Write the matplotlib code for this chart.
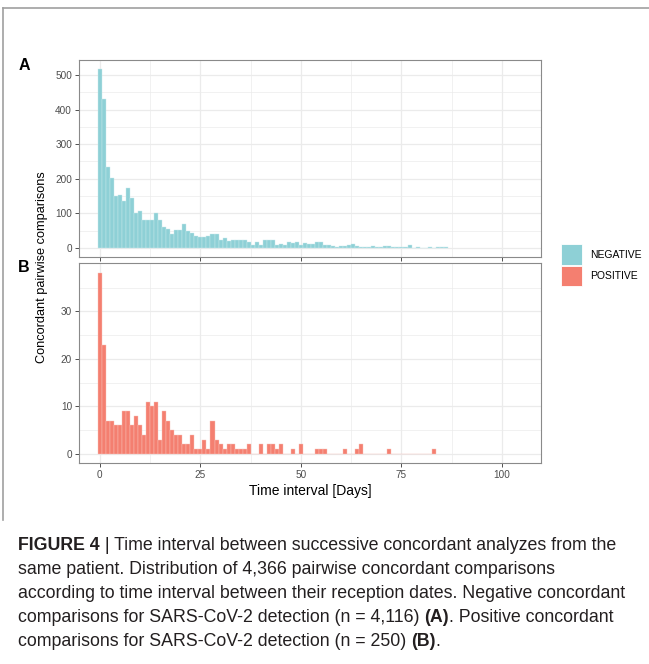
import matplotlib
matplotlib.use("Agg")
import matplotlib.pyplot as plt
import numpy as np

plt.rcParams["font.family"] = ["Liberation Sans", "DejaVu Sans"]

# Panel A: negative concordant comparisons, count per day (0..86)
neg_counts = [
    517, 429, 233, 201, 151, 153, 137, 172, 144, 101, 106, 82, 80, 81, 101, 81,
    60, 56, 41, 53, 52, 70, 48, 42,
    35, 31, 33, 34, 41, 41, 22, 28, 21, 24, 24, 24, 24, 17, 10, 17, 10, 22, 22,
    22, 10, 12, 10, 18, 13, 16, 10, 13,
    12, 12, 17, 17, 8, 8, 7, 4, 6, 7, 9, 12, 7, 4, 4, 4, 7, 2, 4, 5, 5, 3, 3,
    3, 2, 8, 1, 4, 0, 0, 4, 0, 2, 2, 2,
]
neg_days = np.arange(len(neg_counts))

# Panel B: positive concordant comparisons, count per day (0..83)
pos_counts = [
    38, 23, 7, 7, 6, 6, 9, 9, 6, 8, 6, 4, 11, 10, 11, 3, 9, 7, 5, 4, 4, 2, 2, 4,
    1, 1, 3, 1, 7, 3, 2, 1, 2, 2, 1, 1, 1, 2, 0, 0, 2, 0, 2, 2, 1, 2, 0, 0, 1, 0,
    2, 0, 0, 0, 1, 1, 1, 0, 0, 0, 0, 1, 0, 0, 1, 2, 0, 0, 0, 0, 0, 0, 1, 0, 0, 0,
    0, 0, 0, 0, 0, 0, 0, 1,
]
pos_days = np.arange(len(pos_counts))

x_ticks = [0, 25, 50, 75, 100]
legend_labels = ["NEGATIVE", "POSITIVE"]

NEG_COLOR = "#8ED0D6"
POS_COLOR = "#F47F70"
GRID = "#EBEBEB"
BORDER = "#8A8A8A"
TICK_TEXT = "#4D4D4D"

W, H = 649, 664
fig = plt.figure(figsize=(W / 100, H / 100), dpi=100)


def px_axes(left, top, right, bottom):
    return fig.add_axes([left / W, 1 - bottom / H, (right - left) / W, (bottom - top) / H])


def style(ax, yticks, yminor, ylim, show_x):
    ax.set_xlim(-5.2, 109.7)
    ax.set_ylim(*ylim)
    ax.set_xticks(x_ticks)
    ax.set_xticks([12.5, 37.5, 62.5, 87.5], minor=True)
    ax.set_yticks(yticks)
    ax.set_yticks(yminor, minor=True)
    ax.grid(which="major", color=GRID, linewidth=0.9, zorder=0)
    ax.grid(which="minor", color=GRID, linewidth=0.5, zorder=0)
    ax.set_axisbelow(True)
    ax.tick_params(which="minor", length=0)
    ax.tick_params(which="major", length=3, width=0.6, color="#333333",
                   labelsize=7.2, labelcolor=TICK_TEXT, pad=2)
    if not show_x:
        ax.tick_params(axis="x", labelbottom=False)
    for s in ax.spines.values():
        s.set_color(BORDER)
        s.set_linewidth(0.8)


# Panel A
axA = px_axes(79, 60, 541, 257)
axA.bar(neg_days, neg_counts, width=1, color=NEG_COLOR, edgecolor="#C9E9EC",
        linewidth=0.3, zorder=2)
style(axA, [0, 100, 200, 300, 400, 500], [50, 150, 250, 350, 450], (-26, 543), False)

# Panel B
axB = px_axes(79, 263, 541, 463)
axB.bar(pos_days, pos_counts, width=1, color=POS_COLOR, edgecolor="#F9C3BB",
        linewidth=0.3, zorder=2)
style(axB, [0, 10, 20, 30], [5, 15, 25, 35], (-1.9, 40.2), True)
axB.set_xlabel("Time interval [Days]", fontsize=10, labelpad=3)

fig.text(42 / W, 1 - 267 / H, "Concordant pairwise comparisons", rotation=90,
         fontsize=9.2, ha="center", va="center")

fig.text(24 / W, 1 - 65 / H, "A", fontsize=11.5, fontweight="bold", ha="center", va="center")
fig.text(24 / W, 1 - 268 / H, "B", fontsize=11.5, fontweight="bold", ha="center", va="center")

# Legend keys
for i, (lab, col) in enumerate(zip(legend_labels, [NEG_COLOR, POS_COLOR])):
    top = 244 + i * 21.5
    fig.patches.append(plt.Rectangle((561 / W, 1 - (top + 21) / H), 21 / W, 21 / H,
                                     transform=fig.transFigure, facecolor=col,
                                     edgecolor="white", linewidth=0.6))
    fig.text(590 / W, 1 - (top + 10.5) / H, lab, fontsize=7.5, ha="left", va="center")

# Frame lines of the figure box
fig.add_artist(plt.Line2D([3 / W, 1], [1 - 8 / H, 1 - 8 / H], color="#A0A0A0", linewidth=1.2))
fig.add_artist(plt.Line2D([3 / W, 3 / W], [1 - 8 / H, 1 - 520 / H], color="#A0A0A0", linewidth=1.2))

# Caption with mixed bold / regular runs
caption = [
    [("FIGURE 4", True), (" | Time interval between successive concordant analyzes from the", False)],
    [("same patient. Distribution of 4,366 pairwise concordant comparisons", False)],
    [("according to time interval between their reception dates. Negative concordant", False)],
    [("comparisons for SARS-CoV-2 detection (n = 4,116) ", False), ("(A)", True),
     (". Positive concordant", False)],
    [("comparisons for SARS-CoV-2 detection (n = 250) ", False), ("(B)", True), (".", False)],
]
renderer = fig.canvas.get_renderer()


def line_width(runs, size):
    total = 0
    for txt, bold in runs:
        t = fig.text(0, 0, txt, fontsize=size, fontweight="bold" if bold else "normal")
        total += t.get_window_extent(renderer).width
        t.remove()
    return total


# size the caption so lines 2-4 span about the same width as in the original
target = 539 + 603 + 593
cap_size = 11.0 * target / sum(line_width(caption[i], 11.0) for i in (1, 2, 3))

for li, runs in enumerate(caption):
    x = 18
    y = 545 + li * 24
    for txt, bold in runs:
        t = fig.text(x / W, 1 - y / H, txt, fontsize=cap_size,
                     fontweight="bold" if bold else "normal",
                     color="#231F20", ha="left", va="center")
        x += t.get_window_extent(renderer).width

fig.savefig("out.png", dpi=100)
